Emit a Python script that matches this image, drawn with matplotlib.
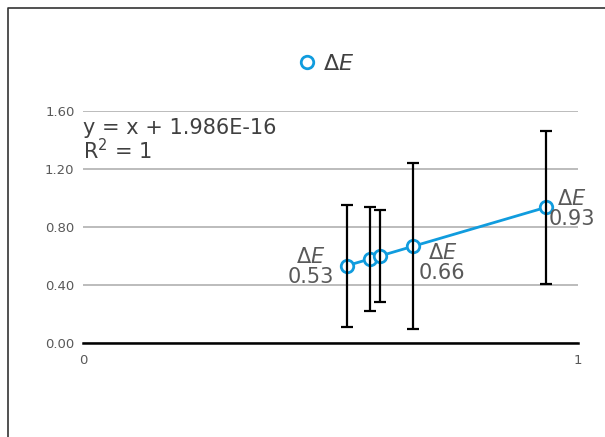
import numpy as np
import matplotlib.pyplot as plt
from matplotlib.lines import Line2D

plt.rcParams['font.family'] = ['DejaVu Sans']
plt.rcParams['mathtext.fontset'] = 'dejavusans'

# valeurs
x = [0.533, 0.58, 0.60, 0.668, 0.935]
y = [0.533, 0.58, 0.60, 0.668, 0.935]
err = [0.42, 0.36, 0.32, 0.57, 0.53]
labels = ['0.53', '0.58', '0.60', '0.66', '0.93']
yticks = [0.0, 0.4, 0.8, 1.2, 1.6]
ytick_labels = ['0.00', '0.40', '0.80', '1.20', '1.60']
xticks = [0, 1]
blue = '#109CDE'
gray = '#595959'
dark = '#404040'

fig = plt.figure(figsize=(6.05, 4.37), dpi=100)
ax = fig.add_axes([0.137, 0.215, 0.818, 0.531])

# cadre (seulement haut et gauche visibles)
bx, by = 7.5 / 605, 1 - 7.5 / 437
fig.add_artist(Line2D([bx, bx, 1.01], [-0.01, by, by], transform=fig.transFigure,
                      color='#333333', lw=1.2))

ax.plot(x, y, color=blue, lw=2, zorder=2)
ax.plot(x, y, 'o', ms=9, mfc='white', mec=blue, mew=2, zorder=3)
ax.errorbar(x, y, yerr=err, fmt='none', ecolor='black', elinewidth=1.6, capsize=4.5,
            capthick=1.6, zorder=4)

ax.set_xlim(0, 1)
ax.set_ylim(0, 1.6)
ax.set_yticks(yticks)
ax.set_yticklabels(ytick_labels)
ax.set_xticks(xticks)
ax.grid(axis='y', color='#b0b0b0', lw=1.2)
ax.set_axisbelow(True)
for s in ['left', 'right', 'top']:
    ax.spines[s].set_visible(False)
ax.spines['bottom'].set_color('black')
ax.spines['bottom'].set_linewidth(1.8)
ax.tick_params(length=0, labelsize=9.5, colors=gray, pad=6)
ax.tick_params(axis='x', pad=8)

# étiquettes de données (points 1, 4 et 5)
lab = dict(fontsize=15, color=gray, linespacing=1.0, multialignment='center',
           textcoords='offset points')
ax.annotate('$\\Delta E$\n' + labels[0], (x[0], y[0]), xytext=(-9, -1),
            ha='right', va='center', **lab)
ax.annotate('$\\Delta E$\n' + labels[3], (x[3], y[3]), xytext=(4, -12),
            ha='left', va='center', **lab)
ax.annotate('$\\Delta E$\n' + labels[4], (x[4], y[4]), xytext=(2, -1),
            ha='left', va='center', **lab)

# équation de la courbe de tendance
fig.text(0.137, 0.73, 'y = x + 1.986E-16\nR$^2$ = 1', fontsize=15, color=dark,
         va='top', ha='left', linespacing=1.0)

handle = Line2D([], [], ls='none', marker='o', ms=9, mfc='white', mec=blue, mew=2)
fig.legend([handle], ['$\\Delta E$'], loc='center', bbox_to_anchor=(0.535, 0.853),
           frameon=False, fontsize=16, handletextpad=0.1, labelcolor=dark,
           handlelength=1.2)

fig.savefig('out.png', dpi=100)
